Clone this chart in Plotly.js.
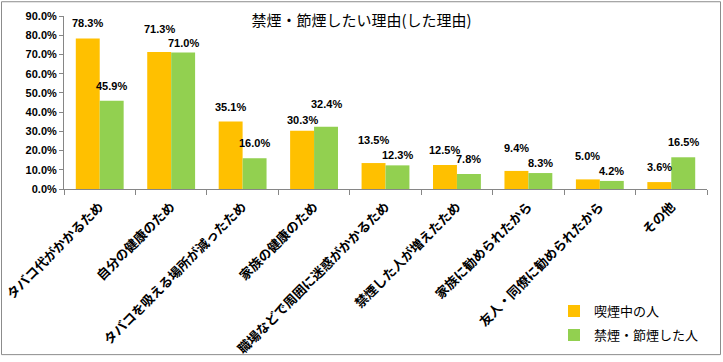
<!DOCTYPE html>
<html>
<head>
<meta charset="utf-8">
<script src="https://cdn.plot.ly/plotly-3.0.1.min.js"></script>
<style>html,body{margin:0;padding:0;background:#fff;}#chart{width:723px;height:362px;}</style>
</head>
<body>
<div id="chart"></div>
<script>
const categories = [
  "タバコ代がかかるため",
  "自分の健康のため",
  "タバコを吸える場所が減ったため",
  "家族の健康のため",
  "職場などで周囲に迷惑がかかるため",
  "禁煙した人が増えたため",
  "家族に勧められたから",
  "友人・同僚に勧められたから",
  "その他"
];
const smokers = [78.3, 71.3, 35.1, 30.3, 13.5, 12.5, 9.4, 5.0, 3.6];
const quitters = [45.9, 71.0, 16.0, 32.4, 12.3, 7.8, 8.3, 4.2, 16.5];
const seriesNames = ["喫煙中の人", "禁煙・節煙した人"];
const yTicks = [0, 10, 20, 30, 40, 50, 60, 70, 80, 90];

const W = 723, H = 362;
const M = {l: 64, r: 16, t: 16, b: 170};
const plotW = W - M.l - M.r, plotH = H - M.t - M.b;
const bargap = 0.33;
const catW = plotW / categories.length;
const barW = catW * (1 - bargap) / 2;

const jp = '"Noto Sans CJK JP", "Noto Sans", sans-serif';
const num = '"Liberation Sans", Arial, sans-serif';

const traces = [
  {type: 'bar', name: seriesNames[0], x: categories, y: smokers, marker: {color: '#FFC000'}, legendgroup: 'a', hoverinfo: 'none'},
  {type: 'bar', name: seriesNames[1], x: categories, y: quitters, marker: {color: '#92D050'}, legendgroup: 'b', hoverinfo: 'none'}
];

const annotations = [];
categories.forEach((c, i) => {
  const a = smokers[i], b = quitters[i];
  let ga = 7, gb = 7;
  if (Math.abs(a - b) < 3) {
    if (a >= b) { ga = 15; gb = 2; } else { gb = 15; ga = 3; }
  }
  [[a, -barW / 2, ga], [b, barW / 2, gb]].forEach(([v, xs, g]) => {
    annotations.push({
      x: c, y: v, xref: 'x', yref: 'y', text: v.toFixed(1) + '%',
      showarrow: false, xanchor: 'center', yanchor: 'bottom',
      xshift: xs, yshift: g,
      font: {family: num, size: 11, color: '#000', weight: 'bold'}
    });
  });
});

const layout = {
  width: W, height: H,
  margin: M,
  paper_bgcolor: '#fff', plot_bgcolor: '#fff',
  title: {text: '禁煙・節煙したい理由(した理由)', font: {family: jp, size: 15, color: '#000'},
          xref: 'container', x: 0.5, xanchor: 'center', yref: 'container', y: 1 - 21 / H, yanchor: 'middle'},
  barmode: 'group', bargap: bargap, bargroupgap: 0,
  showlegend: true,
  legend: {x: (554 - M.l) / plotW, y: -(301 - M.t - plotH) / plotH, xanchor: 'left', yanchor: 'top',
           xref: 'paper', yref: 'paper',
           font: {family: jp, size: 13, color: '#000'}, bgcolor: 'rgba(0,0,0,0)',
           traceorder: 'grouped', tracegroupgap: 4},
  xaxis: {type: 'category', tickangle: -45, tickfont: {family: jp, size: 13, color: '#000', weight: 'bold'},
          ticklabelstandoff: 4, automargin: false,
          showline: true, linecolor: '#868686', linewidth: 1, ticks: 'outside', ticklen: 5, tickcolor: '#868686',
          tickson: 'boundaries', showgrid: false, zeroline: false, fixedrange: true},
  yaxis: {range: [0, 90], tickvals: yTicks, ticktext: yTicks.map(v => v.toFixed(1) + '%'),
          tickfont: {family: num, size: 11, color: '#000', weight: 'bold'}, automargin: false,
          showline: true, linecolor: '#868686', linewidth: 1, ticks: 'outside', ticklen: 4, tickcolor: '#868686',
          showgrid: false, zeroline: false, fixedrange: true},
  annotations: annotations,
  shapes: [{type: 'rect', xref: 'paper', yref: 'paper',
            x0: (1.5 - M.l) / plotW, x1: 1 + (M.r - 2.5) / plotW,
            y0: -(M.b - 1.5) / plotH, y1: 1 + (M.t - 1.5) / plotH,
            line: {color: '#8c8c8c', width: 1}, fillcolor: 'rgba(0,0,0,0)', layer: 'below'}]
};

Plotly.newPlot('chart', traces, layout, {staticPlot: true, displayModeBar: false});
</script>
</body>
</html>
